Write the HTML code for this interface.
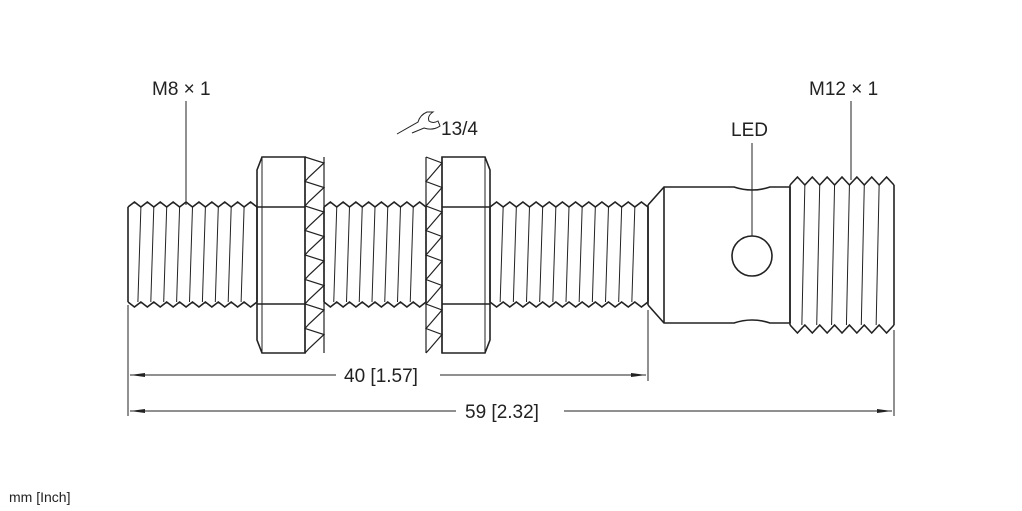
<!DOCTYPE html>
<html><head><meta charset="utf-8"><style>
html,body{margin:0;padding:0;background:#fff;}
svg{display:block;}
text{font-family:"Liberation Sans",sans-serif;fill:#222;}
</style></head><body>
<svg id="s" width="1022" height="511" viewBox="0 0 1022 511" xmlns="http://www.w3.org/2000/svg">
<g fill="none" stroke="#222" stroke-width="1.6" id="g">
<line x1="186" y1="101" x2="186" y2="205" stroke-width="1"/>
<line x1="851" y1="101" x2="851" y2="180" stroke-width="1"/>
<line x1="752" y1="143" x2="752" y2="236" stroke-width="1"/>
<line x1="128" y1="305" x2="128" y2="416" stroke-width="1"/>
<line x1="648" y1="310" x2="648" y2="381" stroke-width="1"/>
<line x1="894" y1="330" x2="894" y2="416" stroke-width="1"/>
<line x1="130" y1="375" x2="336" y2="375" stroke-width="1"/>
<line x1="440" y1="375" x2="646" y2="375" stroke-width="1"/>
<line x1="130" y1="411" x2="456" y2="411" stroke-width="1"/>
<line x1="564" y1="411" x2="892" y2="411" stroke-width="1"/>
<path d="M648 205 L664 187 L734 187 Q752 193 770 187 L790 187"/>
<path d="M648 305 L664 323 L734 323 Q752 317 770 323 L790 323"/>
<line x1="648" y1="205" x2="648" y2="305"/>
<line x1="664" y1="187" x2="664" y2="323"/>
<line x1="790" y1="187" x2="790" y2="323"/>
<circle cx="752" cy="256" r="20"/>
<path d="M262 157 L305 157 L305 353 L262 353 L257 340 L257 170 Z"/>
<line x1="262" y1="157" x2="262" y2="353" stroke-width="1"/>
<line x1="257" y1="207" x2="305" y2="207"/>
<line x1="257" y1="304" x2="305" y2="304"/>
<path d="M442 157 L485 157 L490 170 L490 340 L485 353 L442 353 Z"/>
<line x1="485" y1="157" x2="485" y2="353" stroke-width="1"/>
<line x1="442" y1="207" x2="490" y2="207"/>
<line x1="442" y1="304" x2="490" y2="304"/>
</g>
<polygon points="130,375 145,373 145,377" fill="#222"/>
<polygon points="646,375 631,373 631,377" fill="#222"/>
<polygon points="130,411 145,409 145,413" fill="#222"/>
<polygon points="892,411 877,409 877,413" fill="#222"/>
<text x="152" y="95" font-size="19">M8 × 1</text>
<text x="809" y="95" font-size="19">M12 × 1</text>
<text x="731" y="136" font-size="19">LED</text>
<text x="441" y="135" font-size="19">13/4</text>
<path d="M397 134 L418 122 Q420 115 427 112 L433 112 Q427 116 429 121 Q433 124 438 121 L440 126 Q433 131 424 128 L412 133" fill="none" stroke="#222" stroke-width="1"/>
<text x="344" y="382" font-size="19">40 [1.57]</text>
<text x="465" y="418" font-size="19">59 [2.32]</text>
<text x="9" y="502" font-size="14">mm [Inch]</text>
</svg>
<script>
var g=document.getElementById('g'),NS='http://www.w3.org/2000/svg';
function P(d,w){var p=document.createElementNS(NS,'path');p.setAttribute('d',d);if(w)p.setAttribute('stroke-width',w);g.appendChild(p);}
function thread(x0,x1,yt,yb,pitch,amp){
  var n=Math.round((x1-x0)/pitch);pitch=(x1-x0)/n;
  var t='M'+x0+' '+(yt+amp),b='M'+x0+' '+(yb-amp);
  for(var i=0;i<n;i++){var x=x0+i*pitch;
    t+=' L'+(x+pitch/2)+' '+yt+' L'+(x+pitch)+' '+(yt+amp);
    b+=' L'+(x+pitch/2)+' '+yb+' L'+(x+pitch)+' '+(yb-amp);
    if(i<n-1)P('M'+(x+pitch)+' '+(yt+amp)+' L'+(x+pitch-3)+' '+(yb-amp),1);
  }
  P(t);P(b);
  P('M'+x0+' '+(yt+amp)+' L'+x0+' '+(yb-amp));
  P('M'+x1+' '+(yt+amp)+' L'+x1+' '+(yb-amp));
}
thread(128,257,202,307,13,5);
thread(324,426,202,307,13,5);
thread(490,648,202,307,13,5);
thread(790,894,177,333,16,8);
function washer(x0,x1){
  var d='M'+x0+' 157';
  for(var i=0;i<8;i++){var y=157+i*24.5;d+=' L'+x1+' '+(y+6)+' L'+(x0+4)+' '+(y+20)+' L'+x0+' '+(y+24.5);}
  P(d,1.2);
  P('M'+x1+' 157 L'+x1+' 353',1.2);
  P('M'+x0+' 157 L'+x0+' 353',1.2);
}
washer(305,324);
washer(426,442);
</script>
</body></html>
